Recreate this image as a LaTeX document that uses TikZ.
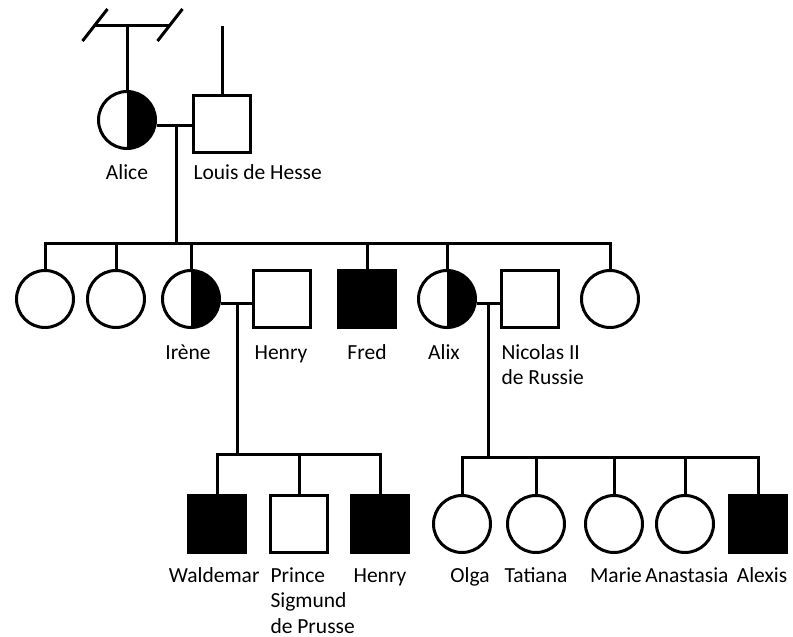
\documentclass[tikz,border=0pt]{standalone}
\usepackage{fontspec}
\setmainfont{Carlito}
\begin{document}
\begin{tikzpicture}[x=1pt, y=-1pt, line width=3pt,
  person/.style={draw=black, line width=3pt, fill=white, inner sep=0pt, minimum size=57pt},
  female/.style={person, circle},
  male/.style={person, rectangle},
  affected/.style={male, fill=black},
  carrier/.style={female, path picture={\fill[black] (path picture bounding box.north) rectangle (path picture bounding box.south east);}},
  pname/.style={font=\fontsize{21.5}{25.5}\selectfont, inner sep=0pt, anchor=base},
  link/.style={line width=3pt}
]
\useasboundingbox (0,0) rectangle (793,637);

% generation I
\node[carrier] (alice) at (127,120) {};
\node[male] (louis) at (222,124) {};

% generation II
\node[female] (d1) at (45,299) {};
\node[female] (d2) at (116,299) {};
\node[carrier] (irene) at (191,299) {};
\node[male] (henry) at (282,299) {};
\node[affected] (fred) at (367,299) {};
\node[carrier] (alix) at (447,299) {};
\node[male] (nicolas) at (530,299) {};
\node[female] (d8) at (610,299) {};

% generation III
\node[affected] (waldemar) at (217,524) {};
\node[male] (sigmund) at (299,524) {};
\node[affected] (henryjr) at (380,524) {};
\node[female] (olga) at (462,524) {};
\node[female] (tatiana) at (536,524) {};
\node[female] (marie) at (614,524) {};
\node[female] (anastasia) at (685,524) {};
\node[affected] (alexis) at (758,524) {};

% names (multi-line names are placed by the baseline of their last line)
\node[pname] (lalice) at (127,179) {Alice};
\node[pname, anchor=base west] (llouis) at (192,179) {Louis de Hesse};
\node[pname] (lirene) at (188,359) {Irène};
\node[pname] (lhenry) at (281,359) {Henry};
\node[pname] (lfred) at (367,359) {Fred};
\node[pname] (lalix) at (444,359) {Alix};
\node[pname, anchor=base west, align=left] (lnicolas) at (500,384.5) {Nicolas II\\de Russie};
\node[pname, anchor=base east] (lwaldemar) at (261,582) {Waldemar};
\node[pname, anchor=base west, align=left] (lsigmund) at (269,633) {Prince\\Sigmund\\de Prusse};
\node[pname] (lhenryjr) at (380,582) {Henry};
\node[pname] (lolga) at (470,582) {Olga};
\node[pname] (ltatiana) at (536,582) {Tatiana};
\node[pname] (lmarie) at (616,582) {Marie};
\node[pname] (lanastasia) at (687,582) {Anastasia};
\node[pname] (lalexis) at (762,582) {Alexis};

% Alice's parents (shown only as a cut sibship line)
\coordinate (gpL) at (95,25);
\coordinate (gpR) at (170,25);
\draw[link] (gpL) -- (gpR);
\draw[link] (gpL) ++(-12.5,16) -- ++(25,-32);
\draw[link] (gpR) ++(-12.5,16) -- ++(25,-32);
\draw[link] (alice.north) -- (alice.north |- gpL);
\coordinate (louisup) at (222,26);
\draw[link] (louis.north) -- (louisup);

% Alice x Louis and their children
\coordinate (u1) at (176,125);
\coordinate (sib1) at (176,243);
\draw[link] (u1 -| alice.east) -- (u1 -| louis.west);
\draw[link] (u1) -- (sib1);
\draw[link] (d1.north) -- (d1.north |- sib1) -- (d8.north |- sib1) -- (d8.north);
\foreach \n in {d2,irene,fred,alix} \draw[link] (\n.north) -- (\n.north |- sib1);

% Irène x Henry and their children
\coordinate (u2) at (237,303);
\coordinate (sib2) at (237,454);
\draw[link] (u2 -| irene.east) -- (u2 -| henry.west);
\draw[link] (u2) -- (sib2);
\draw[link] (waldemar.north) -- (waldemar.north |- sib2) -- (henryjr.north |- sib2) -- (henryjr.north);
\draw[link] (sigmund.north) -- (sigmund.north |- sib2);

% Alix x Nicolas and their children
\coordinate (u3) at (488,303);
\coordinate (sib3) at (488,457);
\draw[link] (u3 -| alix.east) -- (u3 -| nicolas.west);
\draw[link] (u3) -- (sib3);
\draw[link] (olga.north) -- (olga.north |- sib3) -- (alexis.north |- sib3) -- (alexis.north);
\foreach \n in {tatiana,marie,anastasia} \draw[link] (\n.north) -- (\n.north |- sib3);
\end{tikzpicture}
\end{document}
